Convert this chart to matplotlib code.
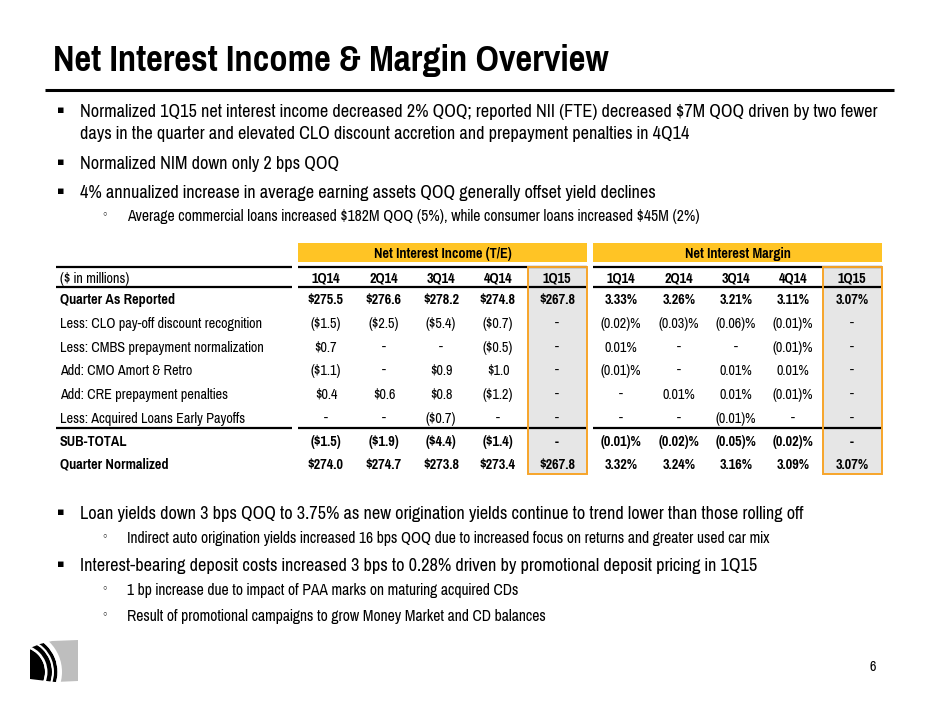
import matplotlib
matplotlib.use("Agg")
import matplotlib.pyplot as plt
from matplotlib import font_manager
from matplotlib.patches import Rectangle, Wedge, Polygon

# ---- data ----
title = "Net Interest Income & Margin Overview"

top_bullets = [
    ("main", "Normalized 1Q15 net interest income decreased 2% QOQ; reported NII (FTE) decreased $7M QOQ driven by two fewer"),
    ("cont", "days in the quarter and elevated CLO discount accretion and prepayment penalties in 4Q14"),
    ("main", "Normalized NIM down only 2 bps QOQ"),
    ("main", "4% annualized increase in average earning assets QOQ generally offset yield declines"),
    ("sub", "Average commercial loans increased $182M QOQ (5%), while consumer loans increased $45M (2%)"),
]
bottom_bullets = [
    ("main", "Loan yields down 3 bps QOQ to 3.75% as new origination yields continue to trend lower than those rolling off"),
    ("sub", "Indirect auto origination yields increased 16 bps QOQ due to increased focus on returns and greater used car mix"),
    ("main", "Interest-bearing deposit costs increased 3 bps to 0.28% driven by promotional deposit pricing in 1Q15"),
    ("sub", "1 bp increase due to impact of PAA marks on maturing acquired CDs"),
    ("sub", "Result of promotional campaigns to grow Money Market and CD balances"),
]

quarters = ["1Q14", "2Q14", "3Q14", "4Q14", "1Q15"]
row_labels = [
    "Quarter As Reported",
    "Less: CLO pay-off discount recognition",
    "Less: CMBS prepayment normalization",
    "Add: CMO Amort & Retro",
    "Add: CRE prepayment penalties",
    "Less: Acquired Loans Early Payoffs",
    "SUB-TOTAL",
    "Quarter Normalized",
]
bold_rows = [0, 6, 7]

nii_values = [
    ["$275.5", "$276.6", "$278.2", "$274.8", "$267.8"],
    ["($1.5)", "($2.5)", "($5.4)", "($0.7)", "-"],
    ["$0.7", "-", "-", "($0.5)", "-"],
    ["($1.1)", "-", "$0.9", "$1.0", "-"],
    ["$0.4", "$0.6", "$0.8", "($1.2)", "-"],
    ["-", "-", "($0.7)", "-", "-"],
    ["($1.5)", "($1.9)", "($4.4)", "($1.4)", "-"],
    ["$274.0", "$274.7", "$273.8", "$273.4", "$267.8"],
]
nim_values = [
    ["3.33%", "3.26%", "3.21%", "3.11%", "3.07%"],
    ["(0.02)%", "(0.03)%", "(0.06)%", "(0.01)%", "-"],
    ["0.01%", "-", "-", "(0.01)%", "-"],
    ["(0.01)%", "-", "0.01%", "0.01%", "-"],
    ["-", "0.01%", "0.01%", "(0.01)%", "-"],
    ["-", "-", "(0.01)%", "-", "-"],
    ["(0.01)%", "(0.02)%", "(0.05)%", "(0.02)%", "-"],
    ["3.32%", "3.24%", "3.16%", "3.09%", "3.07%"],
]

YELLOW = "#FFC425"
ORANGE = "#F7A52A"
GREY = "#E6E6E6"


# pick an Arial Narrow look-alike that has a bold face
def pick_font():
    weights = {}
    for f in font_manager.fontManager.ttflist:
        w = f.weight if isinstance(f.weight, int) else font_manager.weight_dict.get(f.weight, 400)
        weights.setdefault(f.name, set()).add(w)
    prefs = ["Liberation Sans Narrow", "Arial Narrow", "Pragati Narrow", "PT Sans Narrow",
             "Archivo Narrow", "Roboto Condensed", "Sofia Sans Condensed",
             "IBM Plex Sans Condensed", "Fira Sans Condensed", "Encode Sans Condensed"]
    for name in prefs:
        if name in weights and max(weights[name]) >= 600:
            return name
    return "Liberation Sans"


FONT = pick_font()
plt.rcParams['font.family'] = [FONT, 'Liberation Sans', 'DejaVu Sans']
plt.rcParams['text.parse_math'] = False

fig = plt.figure(figsize=(9.4, 7.05), dpi=100)
ax = fig.add_axes([0, 0, 1, 1])
ax.set_xlim(0, 940)
ax.set_ylim(705, 0)
ax.axis("off")
renderer = fig.canvas.get_renderer()


def fit(txt, target, **kw):
    t = ax.text(0, 0, txt, fontsize=20, **kw)
    w = t.get_window_extent(renderer).width
    t.remove()
    return 20 * target / w


def put(x, y, s, fs, **kw):
    # y is the middle of the capitals; place on a common baseline
    return ax.text(x, y + 0.36 * fs * 100 / 72, s, fontsize=fs, va="baseline", **kw)


fs_title = fit(title, 555, fontweight="bold")
fs_main = fit(top_bullets[0][1], 795)
fs_sub = fit(top_bullets[4][1], 573)
fs_tab = fit("Less: Acquired Loans Early Payoffs", 185)
fs_tab_b = fit("Quarter As Reported", 115, fontweight="bold")

# title
put(53, 57, title, fs_title, fontweight="bold", ha="left")
ax.plot([45, 894], [90, 90], color="black", lw=2.2, solid_capstyle="butt")


def bullet_block(items, ys):
    for (kind, txt), y in zip(items, ys):
        if kind == "main":
            ax.text(57, y, "\u25aa", fontsize=8, va="center", ha="left", family="DejaVu Sans")
            put(80, y, txt, fs_main, ha="left")
        elif kind == "cont":
            put(80, y, txt, fs_main, ha="left")
        else:
            ax.text(101, y, "\u25e6", fontsize=8, va="center", ha="left", family="DejaVu Sans")
            put(127, y, txt, fs_sub, ha="left")


bullet_block(top_bullets, [110, 132, 162, 191, 215])
bullet_block(bottom_bullets, [512, 537, 564, 589, 615])

# ---- table ----
label_x = 60
nii_x = [326, 384, 441, 498, 557]
nim_x = [621, 679, 736, 793, 852]
header_y = 277
row_y = [298, 322, 346, 369, 393, 417, 440, 463]

# group banners
ax.add_patch(Rectangle((298, 243), 289, 19, color=YELLOW, lw=0))
ax.add_patch(Rectangle((593, 243), 289, 19, color=YELLOW, lw=0))
put(442.5, 252.5, "Net Interest Income (T/E)", fs_tab_b, fontweight="bold", ha="center")
put(737.5, 252.5, "Net Interest Margin", fs_tab_b, fontweight="bold", ha="center")

# highlighted 1Q15 columns
for x0 in (528, 823):
    ax.add_patch(Rectangle((x0, 267), 59, 207, facecolor=GREY, edgecolor="none", zorder=0))

# rules
for y in (267, 287, 428):
    for x0, x1 in [(56, 292), (298, 587), (593, 882)]:
        ax.plot([x0, x1], [y, y], color="black", lw=1.6, solid_capstyle="butt")

for x0 in (528, 823):
    ax.add_patch(Rectangle((x0, 267), 59, 207, facecolor="none", edgecolor=ORANGE, lw=1.4, zorder=5))

put(label_x, header_y, "($ in millions)", fs_tab, style="italic", ha="left")
for q, xa, xb in zip(quarters, nii_x, nim_x):
    put(xa, header_y, q, fs_tab_b, fontweight="bold", ha="center")
    put(xb, header_y, q, fs_tab_b, fontweight="bold", ha="center")

for i, (lab, y) in enumerate(zip(row_labels, row_y)):
    bold = i in bold_rows
    w = "bold" if bold else "normal"
    fs = fs_tab_b if bold else fs_tab
    put(label_x, y, lab, fs, fontweight=w, ha="left")
    for j in range(len(quarters)):
        put(nii_x[j], y, nii_values[i][j], fs, fontweight=w, ha="center")
        put(nim_x[j], y, nim_values[i][j], fs, fontweight=w, ha="center")

# ---- logo ----
clip = Polygon([(30, 648), (40, 644), (52, 641), (78, 640), (78, 681),
                (55, 682), (30, 679)], closed=True, transform=ax.transData)
cx, cy = 20, 672
rings = [(0, 25, "black"), (25, 27.5, "white"), (27.5, 32, "black"), (32, 34, "white"),
         (34, 37.5, "black"), (37.5, 42, "white"), (42, 90, "#BEBEBE")]
for r0, r1, col in rings:
    wg = Wedge((cx, cy), r1, 0, 360, width=r1 - r0, color=col, lw=0)
    ax.add_patch(wg)
    wg.set_clip_path(clip)

put(873, 665, "6", fs_tab, ha="center")

fig.savefig("out.png", dpi=100)
